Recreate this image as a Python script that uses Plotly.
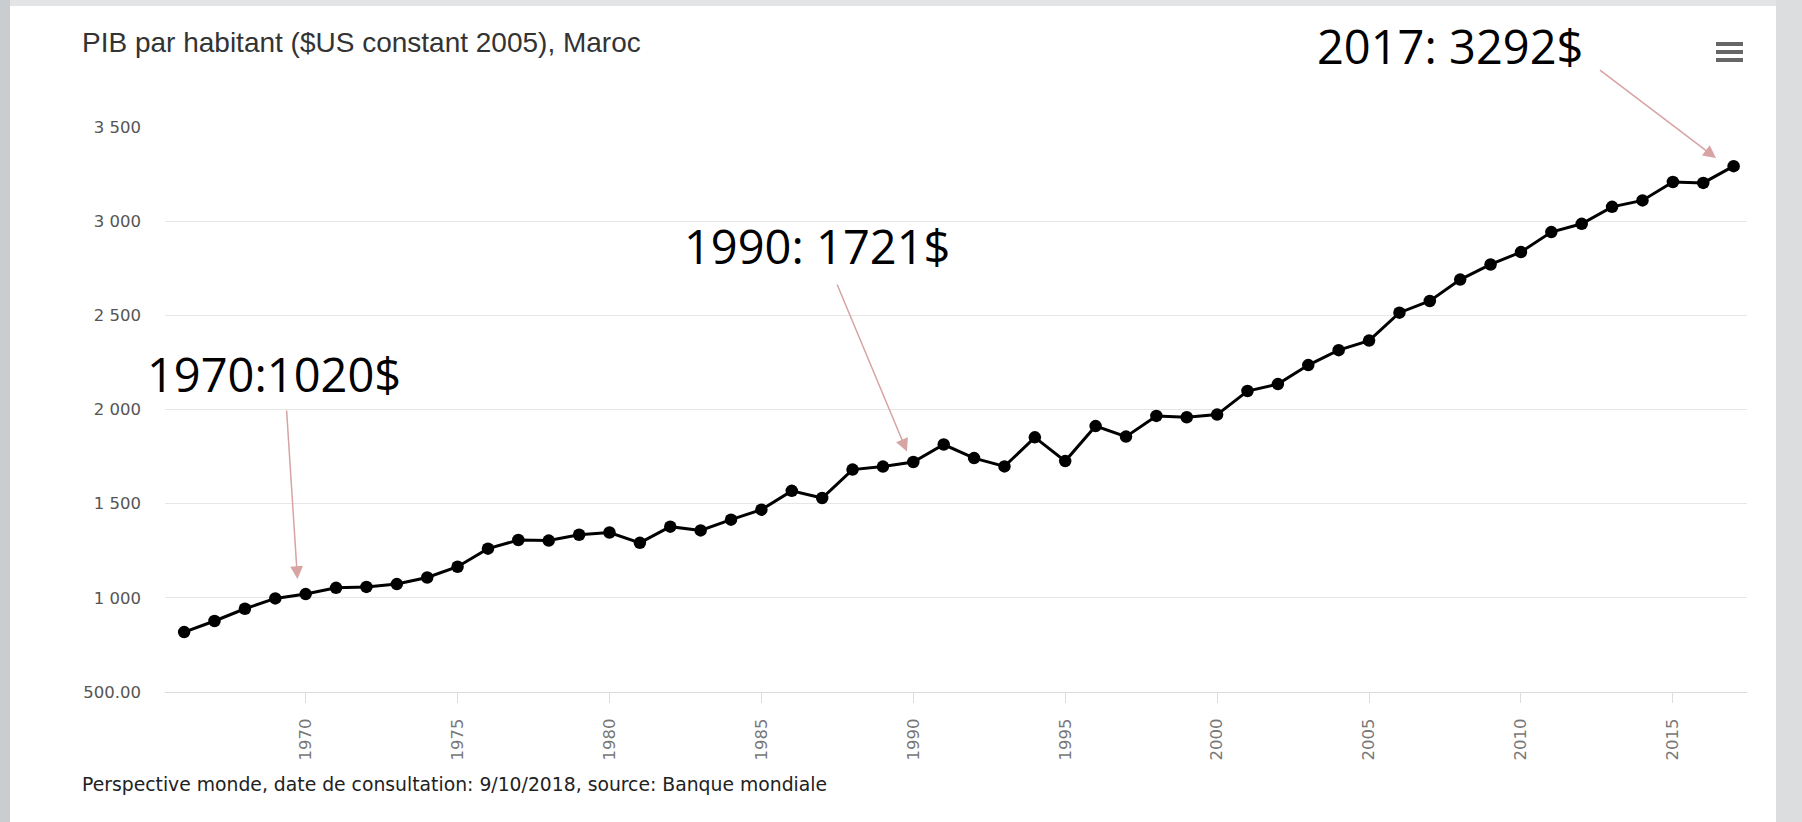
import plotly.graph_objects as go

# PIB par habitant du Maroc, $US constant 2005
years = list(range(1966, 2018))
gdp_per_capita = [
    818, 877, 942, 997, 1020, 1053, 1058, 1073, 1108, 1165,
    1261, 1307, 1304, 1335, 1347, 1292, 1378, 1358, 1415, 1468,
    1568, 1530, 1681, 1697, 1721, 1814, 1742, 1698, 1852, 1726,
    1912, 1856, 1966, 1959, 1973, 2098, 2135, 2236, 2315, 2366,
    2514, 2576, 2690, 2770, 2836, 2942, 2986, 3076, 3110, 3208,
    3203, 3292,
]

y_tick_values = [500, 1000, 1500, 2000, 2500, 3000, 3500]
y_tick_labels = ["500.00", "1 000", "1 500", "2 000", "2 500", "3 000", "3 500"]
x_tick_values = [1970, 1975, 1980, 1985, 1990, 1995, 2000, 2005, 2010, 2015]

highlight_years = [1970, 1990, 2017]
highlight_labels = ["1970:1020$", "1990: 1721$", "2017: 3292$"]

title_text = "PIB par habitant ($US constant 2005), Maroc"
source_text = "Perspective monde, date de consultation: 9/10/2018, source: Banque mondiale"

# canvas geometry (pixels)
W, H = 1802, 822
ML, MR, MT, MB = 165, 55, 127, 130
PW, PH = W - ML - MR, H - MT - MB


def px(x):
    return (x - ML) / PW


def py(y):
    return (H - MB - y) / PH


fig = go.Figure()
fig.add_trace(go.Scatter(
    x=years, y=gdp_per_capita, mode="lines+markers",
    line=dict(color="#000000", width=3),
    marker=dict(color="#000000", size=12.5),
    hoverinfo="x+y", showlegend=False,
))

annotations = []
# title and source line
annotations.append(dict(xref="paper", yref="paper", x=px(80), y=py(43), text=title_text,
                        showarrow=False, xanchor="left", yanchor="middle",
                        font=dict(family="Liberation Sans, Arial", size=28, color="#333333")))
annotations.append(dict(xref="paper", yref="paper", x=px(80), y=py(784), text=source_text,
                        showarrow=False, xanchor="left", yanchor="middle",
                        font=dict(family="DejaVu Sans", size=18.8, color="#222222")))

# callout labels and their arrows (tail pixel position, tip offset above the point)
label_centres = [(274, 374), (817, 246), (1450, 46)]
arrow_tails = [(286.5, 409), (836.5, 283), (1598.5, 69)]
arrow_lift = [80, 56, 43]
arrow_shift = [-0.27, -0.21, -0.58]
idx = {yr: i for i, yr in enumerate(years)}
for yr, lab, (cx, cy), (tx, ty), lift, shift in zip(highlight_years, highlight_labels,
                                                    label_centres, arrow_tails, arrow_lift, arrow_shift):
    annotations.append(dict(xref="paper", yref="paper", x=px(cx), y=py(cy), text=lab,
                            showarrow=False, xanchor="center", yanchor="middle",
                            font=dict(family="Open Sans", size=47, color="#000000")))
    annotations.append(dict(xref="x", yref="y", x=yr + shift, y=gdp_per_capita[idx[yr]] + lift,
                            axref="pixel", ayref="pixel", text="", showarrow=True,
                            arrowhead=2, arrowsize=1.7, arrowwidth=1.5, arrowcolor="#d7a3a3",
                            standoff=0, startstandoff=0))

fig.update_layout(annotations=annotations)
# convert arrow tails to pixel offsets from tip
x0, x1 = 1965.37, 2017.44
y0, y1 = 500, 3500
for a, (tx, ty) in zip([an for an in fig.layout.annotations if an.text == ""], arrow_tails):
    tip_px = ML + (a.x - x0) / (x1 - x0) * PW
    tip_py = MT + (y1 - a.y) / (y1 - y0) * PH
    a.ax = tx - tip_px
    a.ay = ty - tip_py

shapes = [
    # grey page frame
    dict(type="rect", xref="paper", yref="paper", x0=px(0), x1=px(W), y0=py(0), y1=py(6),
         fillcolor="#e3e4e5", line_width=0, layer="below"),
    dict(type="rect", xref="paper", yref="paper", x0=px(0), x1=px(10), y0=py(0), y1=py(H),
         fillcolor="#c9cdd0", line_width=0, layer="below"),
    dict(type="rect", xref="paper", yref="paper", x0=px(1776), x1=px(W), y0=py(0), y1=py(H),
         fillcolor="#dcdddf", line_width=0, layer="below"),
]
# menu icon: three bars
for top in (42, 50, 58):
    shapes.append(dict(type="rect", xref="paper", yref="paper", x0=px(1716), x1=px(1743),
                       y0=py(top), y1=py(top + 4), fillcolor="#666666", line_width=0))

fig.update_layout(
    width=W, height=H, autosize=False,
    margin=dict(l=ML, r=MR, t=MT, b=MB, pad=0),
    paper_bgcolor="#ffffff", plot_bgcolor="#ffffff",
    shapes=shapes,
    xaxis=dict(range=[x0, x1], tickvals=x_tick_values, tickangle=-90,
               showgrid=False, zeroline=False, showline=True, linecolor="#dcdcdc", linewidth=1,
               ticks="outside", ticklen=10, tickcolor="#dcdcdc", tickwidth=1,
               ticklabelstandoff=9,
               tickfont=dict(family="DejaVu Sans", size=16.5, color="#777777")),
    yaxis=dict(range=[y0, y1], tickvals=y_tick_values, ticktext=y_tick_labels,
               showgrid=True, gridcolor="#e6e6e6", gridwidth=1, zeroline=False,
               showline=False, ticks="", ticklabelstandoff=23,
               tickfont=dict(family="DejaVu Sans", size=16.5, color="#555555")),
)

fig.write_html("out.html", config={"displayModeBar": False})
